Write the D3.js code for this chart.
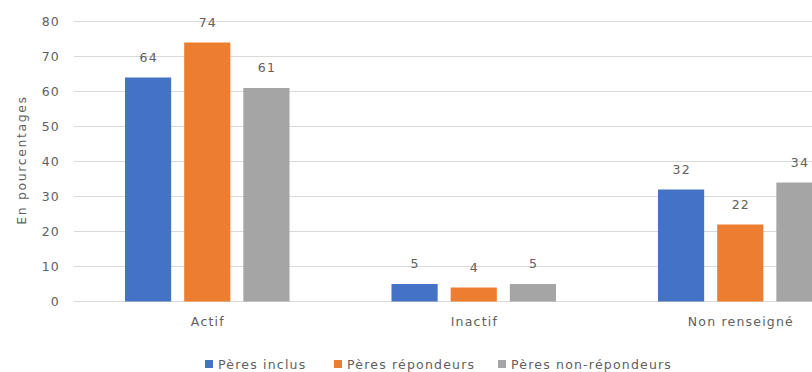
<!DOCTYPE html>
<html>
<head>
<meta charset="utf-8">
<script src="https://cdn.jsdelivr.net/npm/d3@7"></script>
<style>
  body { margin: 0; background: #fff; }
  text { font-family: "DejaVu Sans", sans-serif; fill: #606060; font-size: 12.5px; letter-spacing: 1.2px; }
</style>
</head>
<body>
<svg id="chart" width="812" height="372"></svg>
<script>
// data
const categories = ['Actif', 'Inactif', 'Non renseigné'];
const seriesNames = ['Pères inclus', 'Pères répondeurs', 'Pères non-répondeurs'];
const peresInclus = [64, 5, 32];
const peresRepondeurs = [74, 4, 22];
const peresNonRepondeurs = [61, 5, 34];
const yTicks = [0, 10, 20, 30, 40, 50, 60, 70, 80];
const colors = ['#4472C4', '#ED7D31', '#A5A5A5'];

const seriesValues = [peresInclus, peresRepondeurs, peresNonRepondeurs];
const rows = categories.map((c, i) => ({
    cat: c,
    vals: seriesValues.map((s, j) => ({ name: seriesNames[j], value: s[i] }))
}));

const svg = d3.select('#chart');

// scales (plot runs past the right edge, as in the cropped original)
const x = d3.scaleBand()
            .domain(categories)
            .range([74, 873.5])
            .paddingInner(0)
            .paddingOuter(0);
const x1 = d3.scaleBand()
             .domain(seriesNames)
             .range([51, x.bandwidth() - 51])
             .paddingInner(0.22);
const y = d3.scaleLinear()
            .domain([0, 80])
            .range([301.5, 21.5]);

// grid lines
svg.append('g')
   .selectAll('line')
   .data(yTicks)
   .join('line')
   .attr('x1', 74)
   .attr('x2', 812)
   .attr('y1', d => y(d))
   .attr('y2', d => y(d))
   .attr('stroke', '#d9d9d9')
   .attr('stroke-width', 1);

// y axis labels
const yAxis = d3.axisLeft(y).tickValues(yTicks).tickSize(0).tickPadding(0);
const yG = svg.append('g')
              .attr('transform', 'translate(60,0)')
              .call(yAxis);
yG.select('.domain').remove();
yG.attr('font-family', null).attr('font-size', null);
yG.selectAll('text').attr('fill', null);

// y title
svg.append('text')
   .attr('transform', 'translate(26,160) rotate(-90)')
   .attr('text-anchor', 'middle')
   .style('letter-spacing', '1.6px')
   .text('En pourcentages');

// bars
const groups = svg.append('g')
                  .selectAll('g')
                  .data(rows)
                  .join('g')
                  .attr('transform', d => `translate(${x(d.cat)},0)`);

groups.selectAll('rect')
      .data(d => d.vals)
      .join('rect')
      .attr('x', d => x1(d.name))
      .attr('width', x1.bandwidth())
      .attr('y', d => y(d.value))
      .attr('height', d => y(0) - y(d.value))
      .attr('fill', (d, i) => colors[i]);

groups.selectAll('text')
      .data(d => d.vals)
      .join('text')
      .attr('x', d => x1(d.name) + x1.bandwidth() / 2 + 0.6)
      .attr('y', d => y(d.value) - 16)
      .attr('text-anchor', 'middle')
      .text(d => d.value);

// category labels
const xAxis = d3.axisBottom(x).tickSize(0).tickPadding(0);
const xG = svg.append('g')
              .attr('transform', 'translate(0.6,317)')
              .call(xAxis);
xG.select('.domain').remove();
xG.attr('font-family', null).attr('font-size', null);
xG.selectAll('text').attr('fill', null);

// legend
const legendX = [205, 334, 498];
const legend = svg.append('g')
                  .selectAll('g')
                  .data(seriesNames)
                  .join('g')
                  .attr('transform', (d, i) => `translate(${legendX[i]},360)`);
legend.append('rect')
      .attr('width', 8)
      .attr('height', 8)
      .attr('fill', (d, i) => colors[i]);
legend.append('text')
      .attr('x', 13)
      .attr('y', 8.5)
      .text(d => d);
</script>
</body>
</html>
